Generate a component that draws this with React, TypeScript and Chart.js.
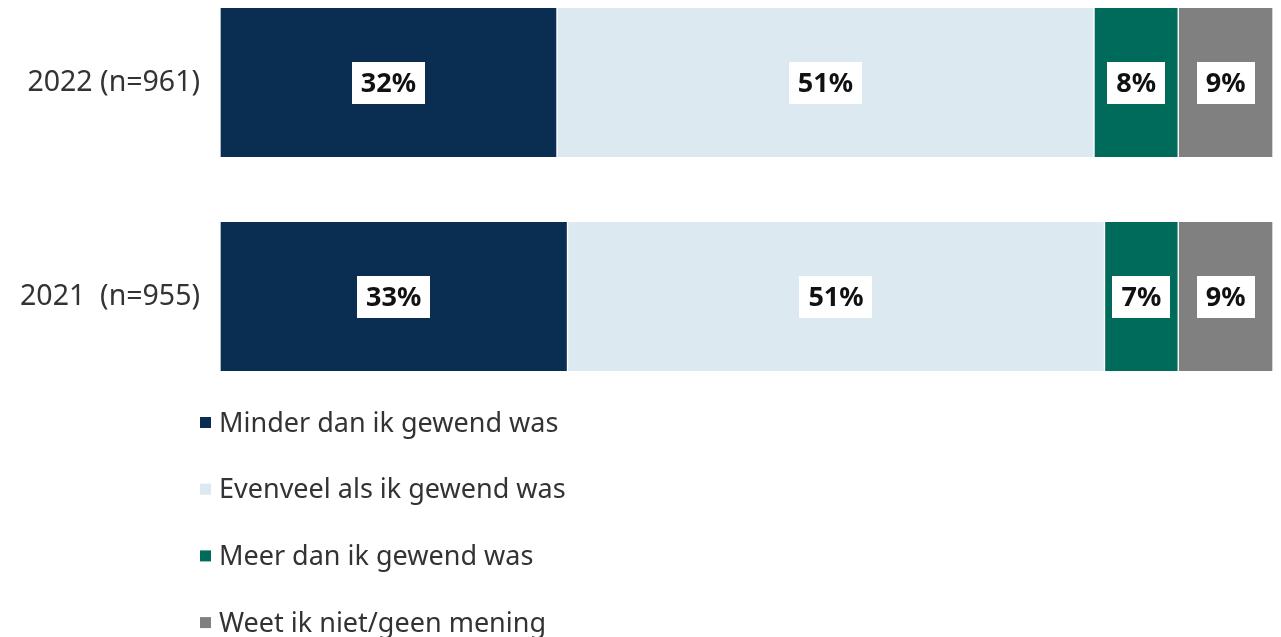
import React, { useEffect, useRef } from "react";
import { Chart, registerables } from "chart.js";

Chart.register(...registerables);

const years = ["2022 (n=961)", "2021  (n=955)"];
const seriesNames = [
  "Minder dan ik gewend was",
  "Evenveel als ik gewend was",
  "Meer dan ik gewend was",
  "Weet ik niet/geen mening",
];
const minder = [32, 33];
const evenveel = [51, 51];
const meer = [8, 7];
const weetNiet = [9, 9];
const colors = ["#0a2d52", "#dde9f0", "#006b5a", "#808080"];

const FONT = "'Noto Sans', 'Open Sans', sans-serif";

// White boxed percentage labels centred in each bar segment
const valueLabels = {
  id: "valueLabels",
  afterDatasetsDraw(chart: any) {
    const ctx = chart.ctx;
    ctx.save();
    ctx.font = `bold 27px ${FONT}`;
    ctx.textAlign = "center";
    ctx.textBaseline = "middle";
    chart.data.datasets.forEach((ds: any, di: number) => {
      const meta = chart.getDatasetMeta(di);
      meta.data.forEach((bar: any, i: number) => {
        const text = `${ds.data[i]}%`;
        const cx = (bar.x + bar.base) / 2;
        const cy = bar.y;
        const w = ctx.measureText(text).width + 18;
        const h = 42;
        ctx.fillStyle = "#ffffff";
        ctx.fillRect(Math.round(cx - w / 2), Math.round(cy - h / 2), Math.round(w), h);
        ctx.fillStyle = "#111111";
        ctx.fillText(text, cx, cy + 2);
      });
    });
    ctx.restore();
  },
};

// Vertical legend listed under the bars
const stackedLegend = {
  id: "stackedLegend",
  afterDraw(chart: any) {
    const ctx = chart.ctx;
    const x0 = chart.chartArea.left - 20;
    const y0 = 424;
    const step = 66.7;
    ctx.save();
    ctx.font = `27px ${FONT}`;
    ctx.textAlign = "left";
    ctx.textBaseline = "middle";
    chart.data.datasets.forEach((ds: any, i: number) => {
      const y = y0 + i * step;
      ctx.fillStyle = ds.backgroundColor;
      ctx.fillRect(x0, y - 7, 11, 11);
      ctx.fillStyle = "#333333";
      ctx.fillText(ds.label, x0 + 19, y);
    });
    ctx.restore();
  },
};

export default function App() {
  const ref = useRef<HTMLCanvasElement | null>(null);

  useEffect(() => {
    if (!ref.current) return;
    const values = [minder, evenveel, meer, weetNiet];
    const chart = new Chart(ref.current, {
      type: "bar",
      data: {
        labels: years,
        datasets: seriesNames.map((name, i) => ({
          label: name,
          data: values[i],
          backgroundColor: colors[i],
          borderColor: "#ffffff",
          borderWidth: { left: 1, right: 1, top: 0, bottom: 0 },
          borderSkipped: false,
          barThickness: 149,
          clip: false as any,
        })),
      },
      options: {
        indexAxis: "y",
        responsive: false,
        animation: false,
        layout: { padding: { top: 82.5, bottom: 340.5, left: 0, right: 8 } },
        plugins: {
          legend: { display: false },
          tooltip: { enabled: false },
        },
        scales: {
          x: {
            stacked: true,
            min: 0,
            max: 100,
            display: false,
          },
          y: {
            stacked: true,
            offset: false,
            grid: { display: false, drawTicks: false },
            border: { display: false },
            ticks: {
              padding: 20,
              color: "#333333",
              font: { family: FONT, size: 28.5 },
            },
            afterFit(scale: any) {
              scale.width = 220;
            },
          },
        },
      },
      plugins: [valueLabels, stackedLegend],
    });
    return () => chart.destroy();
  }, []);

  return (
    <div style={{ position: "fixed", left: 0, top: 0, width: 1281, height: 637, background: "#fff" }}>
      <canvas ref={ref} width={1281} height={637} style={{ display: "block" }} />
    </div>
  );
}
